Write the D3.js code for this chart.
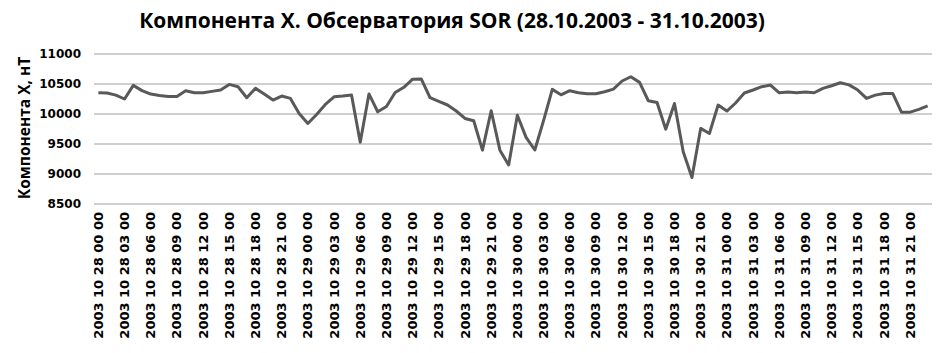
<!DOCTYPE html>
<meta charset="utf-8">
<script src="https://cdn.jsdelivr.net/npm/d3@7"></script>
<style>
body { margin: 0; background: #fff; }
.title { font: bold 21px "Open Sans", sans-serif; fill: #000; }
.ylab { font: bold 15.5px "Open Sans", sans-serif; fill: #000; }
.tick text { font-family: "DejaVu Sans", sans-serif; font-weight: bold; fill: #000; }
.grid line { stroke: #bfbfbf; stroke-width: 1.3px; }
path.series { fill: none; stroke: #595959; stroke-width: 3px; stroke-linejoin: round; }
</style>
<body>
<script>

// hourly values, 28.10.2003 00:00 .. 31.10.2003 23:00
var day28 = [10354, 10350, 10315, 10250, 10477, 10390, 10332, 10310, 10293, 10293, 10388, 10354,
             10354, 10377, 10399, 10493, 10454, 10271, 10427, 10332, 10232, 10299, 10260, 10009];
var day29 = [9842, 9992, 10159, 10287, 10300, 10317, 9530, 10334, 10037, 10125, 10358, 10445,
             10580, 10582, 10271, 10210, 10150, 10050, 9926, 9887, 9397, 10054, 9397, 9150];
var day30 = [9980, 9610, 9400, 9890, 10410, 10320, 10388, 10354, 10338, 10338, 10371, 10415,
             10550, 10621, 10527, 10221, 10193, 9747, 10176, 9370, 8940, 9760, 9676, 10149];
var day31 = [10049, 10183, 10350, 10400, 10455, 10483, 10354, 10365, 10354, 10368, 10354, 10427,
             10471, 10521, 10485, 10399, 10260, 10315, 10343, 10343, 10031, 10031, 10076, 10137];
var days = ["28", "29", "30", "31"];
var yTicks = [8500, 9000, 9500, 10000, 10500, 11000];

var values = day28.concat(day29, day30, day31);
var pad = function(n) { return (n < 10 ? "0" : "") + n; };
var cats = [];
days.forEach(function(d) {
  for (var h = 0; h < 24; h++) cats.push("2003 10 " + d + " " + pad(h) + " 00");
});
var data = cats.map(function(c, i) { return {cat: c, v: values[i]}; });

var width = 945, height = 353;
var margin = {left: 94, right: 13, top: 54, bottom: 149};

var svg = d3.select("body").append("svg")
    .attr("width", width)
    .attr("height", height);

var x = d3.scaleBand()
    .domain(cats)
    .range([margin.left, width - margin.right]);

var y = d3.scaleLinear()
    .domain([8500, 11000])
    .range([height - margin.bottom, margin.top]);

// gridlines
svg.append("g")
    .attr("class", "grid")
    .selectAll("line")
    .data(yTicks)
  .enter().append("line")
    .attr("x1", margin.left)
    .attr("x2", width - margin.right)
    .attr("y1", function(d) { return y(d); })
    .attr("y2", function(d) { return y(d); });

// y axis
var yAxis = svg.append("g")
    .attr("transform", "translate(" + margin.left + ",0)")
    .call(d3.axisLeft(y).tickValues(yTicks).tickSize(0).tickPadding(13).tickFormat(d3.format("d")));
yAxis.select(".domain").remove();
yAxis.selectAll("text").style("font-size", "12px");

// x axis, every 3rd hour labelled
var xAxis = svg.append("g")
    .attr("transform", "translate(0," + y(8500) + ")")
    .call(d3.axisBottom(x)
      .tickValues(cats.filter(function(c, i) { return i % 3 == 0; }))
      .tickSize(0));
xAxis.select(".domain").remove();
xAxis.selectAll("text")
    .style("font-size", "13px")
    .attr("transform", "rotate(-90)")
    .attr("text-anchor", "end")
    .attr("x", -8)
    .attr("y", 0)
    .attr("dy", "0.35em");

// line
var line = d3.line()
    .x(function(d) { return x(d.cat) + x.bandwidth() / 2; })
    .y(function(d) { return y(d.v); });

svg.append("path")
    .datum(data)
    .attr("class", "series")
    .attr("d", line);

// titles
svg.append("text")
    .attr("class", "title")
    .attr("x", 452)
    .attr("y", 28)
    .attr("text-anchor", "middle")
    .text("Компонента X. Обсерватория SOR (28.10.2003 - 31.10.2003)");

svg.append("text")
    .attr("class", "ylab")
    .attr("transform", "translate(30," + 128 + ") rotate(-90)")
    .attr("text-anchor", "middle")
    .text("Компонента X, нТ");

</script>
</body>
